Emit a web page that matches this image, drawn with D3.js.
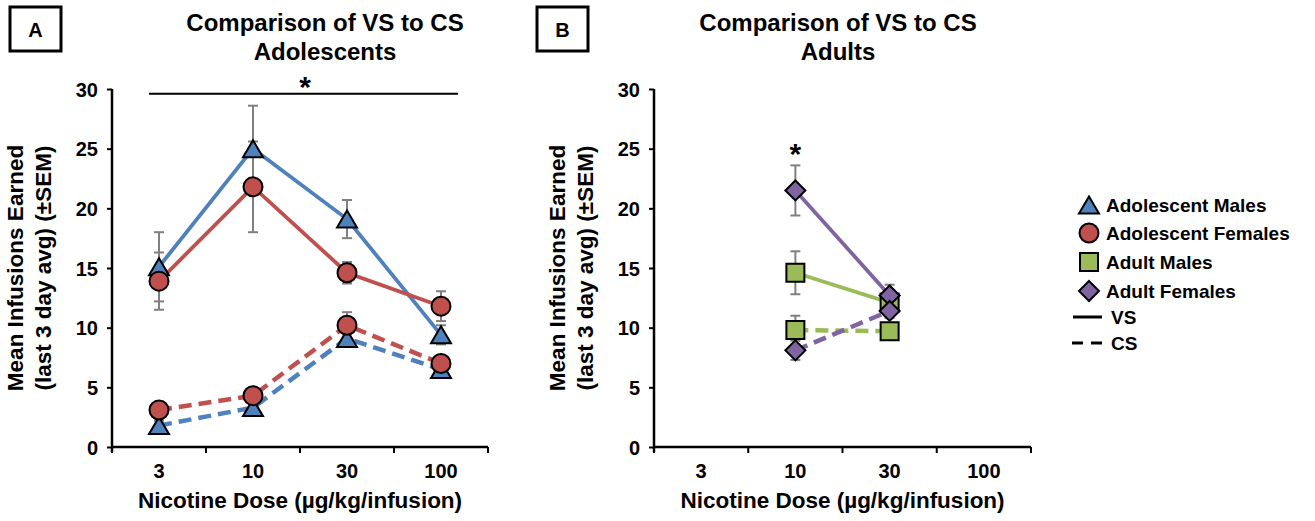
<!DOCTYPE html>
<html><head><meta charset="utf-8">
<script src="https://cdn.jsdelivr.net/npm/d3@7"></script>
<style>
body{margin:0;background:#fff}
svg text{font-family:"Liberation Sans",Arial,sans-serif;font-weight:bold;fill:#000}
</style>
</head><body>
<svg id="c" width="1315" height="521"></svg>
<script>
// ---------- data ----------
const doses = ["3", "10", "30", "100"];
const yTicks = [0, 5, 10, 15, 20, 25, 30];

const adolMalesVS     = [15.1, 25.0, 19.1, 9.4];
const adolMalesVSsem  = [2.9, 3.6, 1.6, 0.8];
const adolFemalesVS    = [13.9, 21.8, 14.6, 11.8];
const adolFemalesVSsem = [2.4, 3.8, 0.9, 1.25];
const adolMalesCS     = [1.8, 3.3, 9.1, 6.5];
const adolMalesCSsem  = [0.4, 0.5, 0.7, 0.4];
const adolFemalesCS    = [3.1, 4.3, 10.2, 7.0];
const adolFemalesCSsem = [0.4, 0.5, 1.1, 0.5];

const adultMalesVS     = [null, 14.6, 12.1, null];
const adultMalesVSsem  = [null, 1.8, 0.6, null];
const adultFemalesVS    = [null, 21.5, 12.7, null];
const adultFemalesVSsem = [null, 2.1, 0.9, null];
const adultMalesCS     = [null, 9.8, 9.7, null];
const adultMalesCSsem  = [null, 1.2, 0.5, null];
const adultFemalesCS    = [null, 8.1, 11.4, null];
const adultFemalesCSsem = [null, 0.8, 0.6, null];

const legendLabels = ["Adolescent Males", "Adolescent Females", "Adult Males", "Adult Females", "VS", "CS"];

// ---------- styles ----------
const C = {blue: "#4F81BD", red: "#C0504D", green: "#9BBB59", purple: "#8064A2"};
const svg = d3.select("#c");

const symTri = {draw(ctx, s){ const w = 10, h = 8.5; ctx.moveTo(0, -h); ctx.lineTo(w, h); ctx.lineTo(-w, h); ctx.closePath(); }};
const symCirc = {draw(ctx, s){ ctx.arc(0, 0, 9.5, 0, 2*Math.PI); }};
const symSq = {draw(ctx, s){ ctx.rect(-9, -9, 18, 18); }};
const symDia = {draw(ctx, s){ ctx.moveTo(0, -10); ctx.lineTo(10, 0); ctx.lineTo(0, 10); ctx.lineTo(-10, 0); ctx.closePath(); }};

function panel(opt){
  const x = d3.scaleBand().domain(doses).range([opt.left, opt.right]);
  const y = d3.scaleLinear().domain([0, 30]).range([447, 89]);
  const g = svg.append("g");

  // y axis
  const ya = g.append("g").attr("transform", `translate(${opt.left},0)`)
    .call(d3.axisLeft(y).tickValues(yTicks).tickSize(5).tickPadding(9).tickFormat(d3.format("d")));
  ya.select(".domain").attr("stroke", "#000").attr("stroke-width", 2.5).attr("d", `M0,${y(30)}V${y(0)+5}`);
  ya.selectAll(".tick line").attr("stroke", "#000").attr("stroke-width", 2);
  ya.selectAll(".tick text").style("font-size", "20px").attr("dy", "0.36em");

  // x axis
  const xa = g.append("g").attr("transform", `translate(0,${y(0)})`)
    .call(d3.axisBottom(x).tickSize(0).tickPadding(17));
  xa.select(".domain").attr("stroke", "#000").attr("stroke-width", 2.5).attr("d", `M${opt.left},0H${opt.right}`);
  xa.selectAll(".tick text").style("font-size", "20px");
  const bounds = doses.map(d => x(d)).concat([x(doses[doses.length-1]) + x.bandwidth()]);
  xa.selectAll("line.bt").data(bounds).enter().append("line").attr("class", "bt")
    .attr("x1", d => d).attr("x2", d => d).attr("y1", 0).attr("y2", 6)
    .attr("stroke", "#000").attr("stroke-width", 2);

  // axis titles
  const cx = (opt.left + opt.right) / 2;
  g.append("text").attr("x", cx).attr("y", 508).attr("text-anchor", "middle")
    .style("font-size", "22.5px").text("Nicotine Dose (µg/kg/infusion)");
  const yl = g.append("text").attr("transform", `translate(${opt.left - 89},268) rotate(-90)`)
    .attr("text-anchor", "middle").style("font-size", "22.5px");
  yl.append("tspan").attr("x", 0).attr("y", 0).text("Mean Infusions Earned");
  yl.append("tspan").attr("x", 0).attr("y", 28).text("(last 3 day avg) (±SEM)");

  // title
  g.append("text").attr("x", opt.titleX).attr("y", 31).attr("text-anchor", "middle")
    .style("font-size", "24px").text("Comparison of VS to CS");
  g.append("text").attr("x", opt.titleX).attr("y", 60).attr("text-anchor", "middle")
    .style("font-size", "24px").text(opt.sub);

  // panel letter box
  g.append("rect").attr("x", opt.boxX).attr("y", 7).attr("width", 51).attr("height", 44)
    .attr("fill", "none").attr("stroke", "#000").attr("stroke-width", 3);
  g.append("text").attr("x", opt.boxX + 25.5).attr("y", 37).attr("text-anchor", "middle")
    .style("font-size", "20px").text(opt.letter);

  const pts = s => s.vals.map((v, i) => ({v, e: s.sem[i], d: doses[i]})).filter(p => p.v != null);
  const px = d => x(d) + x.bandwidth() / 2;

  // lines
  opt.series.forEach(s => {
    g.append("path").datum(pts(s)).attr("fill", "none").attr("stroke", s.color)
      .attr("stroke-width", s.dash ? 4.5 : 3.8).attr("stroke-dasharray", s.dash ? "13,7" : null)
      .attr("d", d3.line().x(p => px(p.d)).y(p => y(p.v)));
  });
  // error bars
  opt.series.forEach(s => {
    const eb = g.append("g").attr("stroke", "#808080").attr("stroke-width", 2);
    pts(s).forEach(p => {
      const xx = px(p.d);
      eb.append("line").attr("x1", xx).attr("x2", xx).attr("y1", y(p.v - p.e)).attr("y2", y(p.v + p.e));
      [p.v - p.e, p.v + p.e].forEach(v => eb.append("line").attr("x1", xx - 5).attr("x2", xx + 5).attr("y1", y(v)).attr("y2", y(v)));
    });
  });
  // markers
  opt.series.forEach(s => {
    g.selectAll(null).data(pts(s)).enter().append("path")
      .attr("transform", p => `translate(${px(p.d)},${y(p.v)})`)
      .attr("d", d3.symbol().type(s.sym)).attr("fill", s.color)
      .attr("stroke", "#000").attr("stroke-width", 2);
  });
  return {x, y, g, px};
}

const A = panel({left: 112, right: 488, titleX: 325, sub: "Adolescents", boxX: 10, letter: "A",
  series: [
    {vals: adolMalesVS, sem: adolMalesVSsem, color: C.blue, sym: symTri, dash: false},
    {vals: adolFemalesVS, sem: adolFemalesVSsem, color: C.red, sym: symCirc, dash: false},
    {vals: adolMalesCS, sem: adolMalesCSsem, color: C.blue, sym: symTri, dash: true},
    {vals: adolFemalesCS, sem: adolFemalesCSsem, color: C.red, sym: symCirc, dash: true}
  ]});
// significance bar across all doses
A.g.append("line").attr("x1", 149).attr("x2", 458).attr("y1", A.y(29.6)).attr("y2", A.y(29.6))
  .attr("stroke", "#000").attr("stroke-width", 2);
A.g.append("text").attr("x", 305).attr("y", 97).attr("text-anchor", "middle").style("font-size", "30px").text("*");

const B = panel({left: 654, right: 1031, titleX: 838, sub: "Adults", boxX: 537, letter: "B",
  series: [
    {vals: adultMalesVS, sem: adultMalesVSsem, color: C.green, sym: symSq, dash: false},
    {vals: adultFemalesVS, sem: adultFemalesVSsem, color: C.purple, sym: symDia, dash: false},
    {vals: adultMalesCS, sem: adultMalesCSsem, color: C.green, sym: symSq, dash: true},
    {vals: adultFemalesCS, sem: adultFemalesCSsem, color: C.purple, sym: symDia, dash: true}
  ]});
B.g.append("text").attr("x", B.px("10")).attr("y", 164).attr("text-anchor", "middle").style("font-size", "30px").text("*");

// legend
const lg = svg.append("g");
const lgY = [205, 233, 262, 291, 317, 343];
const lgSym = [[symTri, C.blue], [symCirc, C.red], [symSq, C.green], [symDia, C.purple]];
lgSym.forEach((s, i) => {
  lg.append("path").attr("transform", `translate(1089,${lgY[i]})`).attr("d", d3.symbol().type(s[0]))
    .attr("fill", s[1]).attr("stroke", "#000").attr("stroke-width", 2);
});
lg.append("line").attr("x1", 1073).attr("x2", 1102).attr("y1", lgY[4]).attr("y2", lgY[4]).attr("stroke", "#000").attr("stroke-width", 3);
lg.append("line").attr("x1", 1072).attr("x2", 1102).attr("y1", lgY[5]).attr("y2", lgY[5]).attr("stroke", "#000").attr("stroke-width", 3).attr("stroke-dasharray", "11,8");
legendLabels.forEach((t, i) => {
  lg.append("text").attr("x", i < 4 ? 1106 : 1111).attr("y", lgY[i]).attr("dy", "0.36em")
    .style("font-size", "19px").text(t);
});
</script>
</body></html>
